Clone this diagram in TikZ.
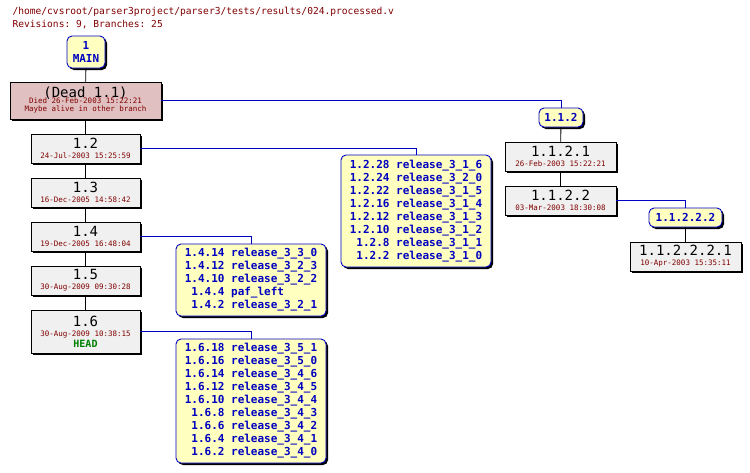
\documentclass[tikz,border=0pt]{standalone}
\usepackage{fontspec}
\setmonofont{DejaVu Sans Mono}
\usetikzlibrary{shadows}
\definecolor{dred}{HTML}{800000}
\definecolor{tagfill}{HTML}{FFFFC0}
\definecolor{revfill}{HTML}{F0F0F0}
\definecolor{deadfill}{HTML}{E0C0C0}
\definecolor{tagblue}{HTML}{0000C0}
\definecolor{hgreen}{HTML}{008000}
\begin{document}
\begin{tikzpicture}[x=1pt,y=-1pt,
  sh/.style={drop shadow={shadow xshift=2pt,shadow yshift=-2pt,opacity=1,fill=black}},
  rev/.style={draw=black,line width=0.9pt,fill=revfill,sh,inner sep=0pt,minimum width=109pt,align=center,font=\ttfamily},
  tag/.style={draw=tagblue,line width=0.9pt,fill=tagfill,rounded corners=5pt,sh,inner sep=2pt,align=center,text=tagblue,font=\ttfamily\bfseries\fontsize{11}{13}\selectfont},
  conn/.style={draw=black,line width=0.9pt},
  bconn/.style={draw=tagblue,line width=0.9pt}]
\newcommand{\dt}[1]{\\[-2pt]{\fontsize{7.5}{8}\selectfont\color{dred}#1}}
\newcommand{\rv}[1]{{\fontsize{14}{15}\selectfont #1}}
\useasboundingbox (0,0) rectangle (750,472);
\fill[white] (0,0) rectangle (750,472);
\node[anchor=west,text=dred,font=\ttfamily\fontsize{9.6}{11}\selectfont] (t1) at (9,12) {/home/cvsroot/parser3project/parser3/tests/results/024.processed.v};
\node[anchor=west,text=dred,font=\ttfamily\fontsize{9.6}{11}\selectfont] (t2) at (9,25) {Revisions: 9, Branches: 25};
\node[tag,minimum width=38pt,minimum height=32pt,inner sep=1pt] (main) at (86,52) {1\\MAIN};
\node[rev,fill=deadfill,minimum width=151pt,minimum height=37pt] (d11) at (85.5,100.5) {\rv{(Dead 1.1)}\\[-2pt]{\fontsize{7.5}{8}\selectfont\color{dred}\renewcommand{\arraystretch}{0.95}\begin{tabular}{@{}c@{}}Died 26-Feb-2003 15:22:21\\Maybe alive in other branch\end{tabular}}};
\node[rev,minimum height=29pt] (r12) at (85.5,148.5) {\rv{1.2}\dt{24-Jul-2003 15:25:59}};
\node[rev,minimum height=29pt] (r13) at (85.5,192.5) {\rv{1.3}\dt{16-Dec-2005 14:58:42}};
\node[rev,minimum height=29pt] (r14) at (85.5,236.5) {\rv{1.4}\dt{19-Dec-2005 16:48:04}};
\node[rev,minimum height=29pt] (r15) at (85.5,280.5) {\rv{1.5}\dt{30-Aug-2009 09:30:28}};
\node[rev,minimum height=43pt] (r16) at (85.5,331.5) {\rv{1.6}\dt{30-Aug-2009 10:38:15}\\[-1pt]{\bfseries\fontsize{10}{11}\selectfont\color{hgreen}HEAD}};
\node[tag,minimum width=150pt,minimum height=112pt] (g12) at (416,211) {\begin{tabular}{@{}r@{ }l@{}}1.2.28&release\_3\_1\_6\\1.2.24&release\_3\_2\_0\\1.2.22&release\_3\_1\_5\\1.2.16&release\_3\_1\_4\\1.2.12&release\_3\_1\_3\\1.2.10&release\_3\_1\_2\\1.2.8&release\_3\_1\_1\\1.2.2&release\_3\_1\_0\end{tabular}};
\node[tag,minimum width=150pt,minimum height=72pt] (g14) at (251,280) {\begin{tabular}{@{}r@{ }l@{}}1.4.14&release\_3\_3\_0\\1.4.12&release\_3\_2\_3\\1.4.10&release\_3\_2\_2\\1.4.4&paf\_left\\1.4.2&release\_3\_2\_1\end{tabular}};
\node[tag,minimum width=150pt,minimum height=124pt] (g16) at (251,401) {\begin{tabular}{@{}r@{ }l@{}}1.6.18&release\_3\_5\_1\\1.6.16&release\_3\_5\_0\\1.6.14&release\_3\_4\_6\\1.6.12&release\_3\_4\_5\\1.6.10&release\_3\_4\_4\\1.6.8&release\_3\_4\_3\\1.6.6&release\_3\_4\_2\\1.6.4&release\_3\_4\_1\\1.6.2&release\_3\_4\_0\end{tabular}};
\node[tag,minimum width=44pt,minimum height=19pt,inner sep=1pt] (b112) at (561,117.5) {1.1.2};
\node[rev,minimum width=111pt,minimum height=29pt] (r1121) at (560.5,156.5) {\rv{1.1.2.1}\dt{26-Feb-2003 15:22:21}};
\node[rev,minimum width=111pt,minimum height=29pt] (r1122) at (560.5,200.5) {\rv{1.1.2.2}\dt{03-Mar-2003 18:30:08}};
\node[tag,minimum width=73pt,minimum height=19pt,inner sep=1pt] (b11222) at (685.5,217.5) {1.1.2.2.2};
\node[rev,minimum width=111pt,minimum height=29pt] (r112221) at (685.5,256.5) {\rv{1.1.2.2.2.1}\dt{10-Apr-2003 15:35:11}};
\draw[conn] (main) -- (d11);
\draw[conn] (d11) -- (r12);
\draw[conn] (r12) -- (r13);
\draw[conn] (r13) -- (r14);
\draw[conn] (r14) -- (r15);
\draw[conn] (r15) -- (r16);
\draw[conn] (b112) -- (r1121);
\draw[conn] (r1121) -- (r1122);
\draw[conn] (b11222) -- (r112221);
\draw[bconn] (d11.east) -| (b112.north);
\draw[bconn] (r12.east) -| (g12.north);
\draw[bconn] (r14.east) -| (g14.north);
\draw[bconn] (r16.east) -| (g16.north);
\draw[bconn] (r1122.east) -| (b11222.north);
\end{tikzpicture}
\end{document}
